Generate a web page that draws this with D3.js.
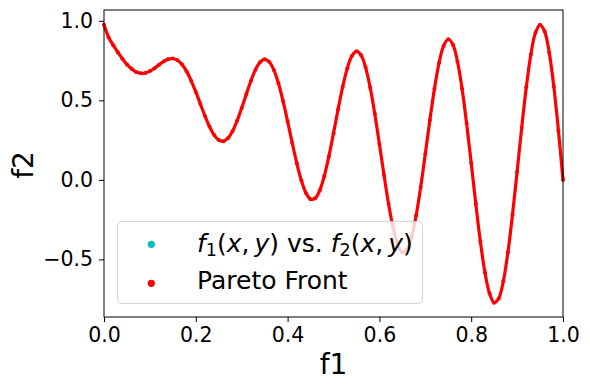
<!DOCTYPE html>
<html>
<head>
<meta charset="utf-8">
<script src="https://cdn.jsdelivr.net/npm/d3@7"></script>
<style>
  body { margin: 0; background: #fff; }
  svg { font-family: "DejaVu Sans", sans-serif; }
</style>
</head>
<body>
<script>
// values
const f1 = [0.00, 0.01, 0.02, 0.03, 0.04, 0.05, 0.06, 0.07, 0.08, 0.09,
            0.10, 0.11, 0.12, 0.13, 0.14, 0.15, 0.16, 0.17, 0.18, 0.19,
            0.20, 0.21, 0.22, 0.23, 0.24, 0.25, 0.26, 0.27, 0.28, 0.29,
            0.30, 0.31, 0.32, 0.33, 0.34, 0.35, 0.36, 0.37, 0.38, 0.39,
            0.40, 0.41, 0.42, 0.43, 0.44, 0.45, 0.46, 0.47, 0.48, 0.49,
            0.50, 0.51, 0.52, 0.53, 0.54, 0.55, 0.56, 0.57, 0.58, 0.59,
            0.60, 0.61, 0.62, 0.63, 0.64, 0.65, 0.66, 0.67, 0.68, 0.69,
            0.70, 0.71, 0.72, 0.73, 0.74, 0.75, 0.76, 0.77, 0.78, 0.79,
            0.80, 0.81, 0.82, 0.83, 0.84, 0.85, 0.86, 0.87, 0.88, 0.89,
            0.90, 0.91, 0.92, 0.93, 0.94, 0.95, 0.96, 0.97, 0.98, 0.99, 1.00];
const f2 = [0.975, 0.897, 0.847, 0.803, 0.762, 0.726, 0.698, 0.679, 0.670, 0.672,
            0.684, 0.702, 0.724, 0.745, 0.759, 0.763, 0.752, 0.725, 0.682, 0.623,
            0.553, 0.477, 0.402, 0.334, 0.282, 0.250, 0.243, 0.262, 0.306, 0.372,
            0.452, 0.539, 0.622, 0.693, 0.740, 0.758, 0.742, 0.691, 0.607, 0.496,
            0.368, 0.233, 0.105, -0.004, -0.082, -0.121, -0.116, -0.066, 0.025, 0.149,
            0.293, 0.444, 0.585, 0.701, 0.779, 0.808, 0.784, 0.706, 0.579, 0.414,
            0.225, 0.031, -0.152, -0.303, -0.409, -0.456, -0.440, -0.361, -0.224, -0.044,
            0.163, 0.377, 0.575, 0.736, 0.844, 0.884, 0.851, 0.745, 0.575, 0.355,
            0.106, -0.150, -0.388, -0.583, -0.715, -0.772, -0.745, -0.637, -0.455, -0.218,
            0.051, 0.327, 0.582, 0.788, 0.925, 0.975, 0.933, 0.800, 0.586, 0.311, 0.000];
const xTicks = [0, 0.2, 0.4, 0.6, 0.8, 1.0];
const yTicks = [-0.5, 0, 0.5, 1.0];
const legendItems = ["cloud", "front"];

const width = 590, height = 390;
const margin = { top: 10, right: 27, bottom: 73, left: 104 };

const svg = d3.select("body").append("svg")
    .attr("width", width)
    .attr("height", height);

const x = d3.scaleLinear().domain([0, 1]).range([margin.left, width - margin.right]);
const y = d3.scaleLinear().domain([-0.862, 1.068]).range([height - margin.bottom, margin.top]);

const points = f1.map((v, i) => ({ x: v, y: f2[i] }));

// the front
svg.append("path")
    .datum(points)
    .attr("fill", "none")
    .attr("stroke", "#ff0000")
    .attr("stroke-width", 3.2)
    .attr("d", d3.line().x(d => x(d.x)).y(d => y(d.y)).curve(d3.curveCatmullRom));

svg.append("g").selectAll("circle")
    .data(points)
    .enter().append("circle")
    .attr("cx", d => x(d.x))
    .attr("cy", d => y(d.y))
    .attr("r", 2)
    .attr("fill", "#ff0000");

// axes
const xAxis = svg.append("g")
    .attr("transform", `translate(0,${height - margin.bottom})`)
    .call(d3.axisBottom(x).tickValues(xTicks).tickFormat(d3.format(".1f")).tickSize(5).tickPadding(5.5));
const yAxis = svg.append("g")
    .attr("transform", `translate(${margin.left},0)`)
    .call(d3.axisLeft(y).tickValues(yTicks).tickFormat(d => d3.format(".1f")(d).replace("-", "\u2212")).tickSize(5).tickPadding(6));

[xAxis, yAxis].forEach(a => {
    a.select(".domain").remove();
    a.selectAll("text").attr("font-size", 20.5).attr("fill", "#000").attr("font-family", "DejaVu Sans");
    a.selectAll("line").attr("stroke", "#000");
});

// frame
svg.append("rect")
    .attr("x", margin.left)
    .attr("y", margin.top)
    .attr("width", width - margin.left - margin.right)
    .attr("height", height - margin.top - margin.bottom)
    .attr("fill", "none")
    .attr("stroke", "#000")
    .attr("stroke-width", 1);

svg.append("text")
    .attr("x", (margin.left + width - margin.right) / 2)
    .attr("y", 374)
    .attr("text-anchor", "middle")
    .attr("font-size", 28)
    .text("f1");

svg.append("text")
    .attr("transform", "translate(33,165) rotate(-90)")
    .attr("text-anchor", "middle")
    .attr("font-size", 28)
    .text("f2");

// legend
const legend = svg.append("g");
legend.append("rect")
    .attr("x", 117.5).attr("y", 221.5)
    .attr("width", 305).attr("height", 82)
    .attr("rx", 4)
    .attr("fill", "#fff").attr("fill-opacity", 0.8)
    .attr("stroke", "#cccccc").attr("stroke-opacity", 0.8);

const legendColor = d3.scaleOrdinal().domain(legendItems).range(["#00bfbf", "#ff0000"]);
legend.selectAll(".mk")
    .data(legendItems)
    .enter().append("circle")
    .attr("cx", 151.3)
    .attr("cy", (d, i) => 244.3 + i * 39)
    .attr("r", 3.6)
    .attr("fill", d => legendColor(d));

const t1 = legend.append("text").attr("x", 197).attr("y", 251.5).attr("font-size", 25);
t1.append("tspan").attr("font-style", "italic").text("f");
t1.append("tspan").attr("font-size", 17.5).attr("dy", 4).text("1");
t1.append("tspan").attr("dy", -4).text("(");
t1.append("tspan").attr("font-style", "italic").text("x");
t1.append("tspan").text(",\u2009");
t1.append("tspan").attr("font-style", "italic").text("y");
t1.append("tspan").text(") vs. ");
t1.append("tspan").attr("font-style", "italic").text("f");
t1.append("tspan").attr("font-size", 17.5).attr("dy", 4).text("2");
t1.append("tspan").attr("dy", -4).text("(");
t1.append("tspan").attr("font-style", "italic").text("x");
t1.append("tspan").text(",\u2009");
t1.append("tspan").attr("font-style", "italic").text("y");
t1.append("tspan").text(")");

legend.append("text")
    .attr("x", 197).attr("y", 288.5)
    .attr("font-size", 25)
    .text("Pareto Front");
</script>
</body>
</html>
